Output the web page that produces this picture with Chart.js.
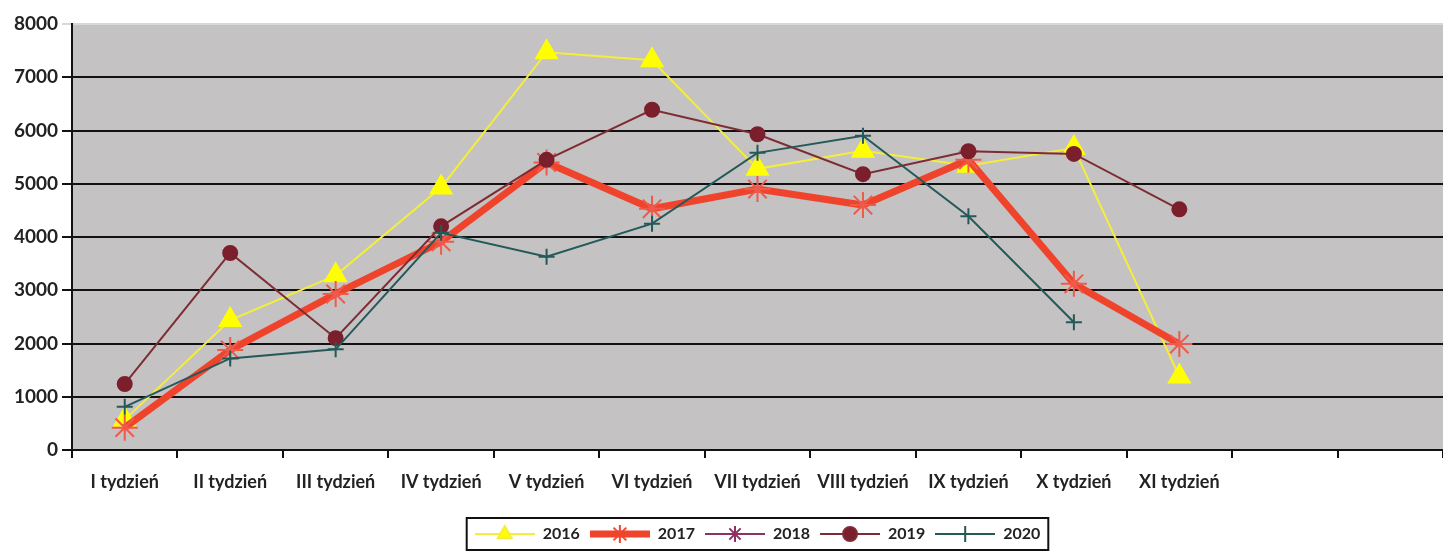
<!DOCTYPE html>
<html>
<head>
<meta charset="utf-8">
<script src="https://cdn.jsdelivr.net/npm/chart.js@4"></script>
<style>
  html, body { margin: 0; padding: 0; background: #fff; overflow: hidden; }
  #wrap { width: 1443px; height: 552px; }
  canvas { display: block; }
</style>
</head>
<body>
<div id="wrap"><canvas id="weeksChart"></canvas></div>
<script>
const weeks = ['I tydzień', 'II tydzień', 'III tydzień', 'IV tydzień', 'V tydzień', 'VI tydzień',
    'VII tydzień', 'VIII tydzień', 'IX tydzień', 'X tydzień', 'XI tydzień', '', ''];
const yTicks = [0, 1000, 2000, 3000, 4000, 5000, 6000, 7000, 8000];

const values2016 = [570, 2440, 3280, 4930, 7470, 7320, 5280, 5620, 5340, 5670, 1380];
const values2017 = [420, 1880, 2930, 3910, 5400, 4530, 4900, 4600, 5450, 3120, 1990];
const values2018 = [];
const values2019 = [1240, 3700, 2100, 4200, 5450, 6390, 5930, 5180, 5610, 5560, 4520];
const values2020 = [810, 1720, 1890, 4080, 3630, 4250, 5580, 5900, 4390, 2400];

const legendFont = { family: 'Lato', size: 16, weight: 'bold' };

// little canvas with line + marker, used as the legend symbol
function legendSymbol(color, lineWidth, style, radius, fill) {
    const c = document.createElement('canvas');
    c.width = 60;
    c.height = 22;
    const g = c.getContext('2d');
    g.strokeStyle = color;
    g.lineWidth = lineWidth;
    g.beginPath();
    g.moveTo(0, 11);
    g.lineTo(60, 11);
    g.stroke();
    g.fillStyle = fill;
    g.lineWidth = 2;
    Chart.helpers.drawPoint(g, { pointStyle: style, radius: radius, borderWidth: 2 }, 30, 11);
    return c;
}

const plotBackground = {
    id: 'plotBackground',
    beforeDraw(chart) {
        const { ctx, chartArea } = chart;
        ctx.save();
        ctx.fillStyle = '#c4c2c2';
        ctx.fillRect(chartArea.left, chartArea.top, chartArea.right - chartArea.left, chartArea.bottom - chartArea.top);
        ctx.restore();
    }
};

const legendBox = {
    id: 'legendBox',
    afterDraw(chart) {
        const boxes = chart.legend.legendHitBoxes;
        if (!boxes || !boxes.length) return;
        const left = Math.min(...boxes.map(b => b.left)) - 8;
        const right = Math.max(...boxes.map(b => b.left + b.width)) + 8;
        const top = Math.min(...boxes.map(b => b.top)) - 8;
        const bottom = Math.max(...boxes.map(b => b.top + b.height)) + 8;
        const ctx = chart.ctx;
        ctx.save();
        ctx.strokeStyle = '#111';
        ctx.lineWidth = 2;
        ctx.strokeRect(left, top, right - left, bottom - top);
        ctx.restore();
    }
};

const datasets = [
    { label: '2016', data: values2016, borderColor: '#f4ee3a', backgroundColor: '#ffff00', borderWidth: 2,
      pointStyle: 'triangle', pointRadius: 12, pointBorderColor: '#ffff00', order: 5 },
    { label: '2017', data: values2017, borderColor: '#f0432c', backgroundColor: '#f0432c', borderWidth: 7,
      pointStyle: 'star', pointRadius: 13, pointBorderWidth: 2, pointBorderColor: '#ef5a4a', order: 4 },
    { label: '2018', data: values2018, borderColor: '#8e3160', backgroundColor: '#8e3160', borderWidth: 2,
      pointStyle: 'star', pointRadius: 9, order: 3 },
    { label: '2019', data: values2019, borderColor: '#7e2c34', backgroundColor: '#7a1f2b', borderWidth: 2,
      pointStyle: 'circle', pointRadius: 7, pointBorderColor: '#7a1f2b', order: 2 },
    { label: '2020', data: values2020, borderColor: '#24595a', backgroundColor: '#24595a', borderWidth: 2,
      pointStyle: 'cross', pointRadius: 8, pointBorderWidth: 2, order: 1 }
];

const symbols = [
    legendSymbol('#f4ee3a', 2, 'triangle', 8, '#ffff00'),
    legendSymbol('#f0432c', 7, 'star', 9, '#f0432c'),
    legendSymbol('#8e3160', 2, 'star', 8, '#8e3160'),
    legendSymbol('#7e2c34', 2, 'circle', 7, '#7a1f2b'),
    legendSymbol('#24595a', 2, 'cross', 8, '#24595a')
];

const ctxWeeks = document.getElementById('weeksChart').getContext('2d');
const weeksChart = new Chart(ctxWeeks, {
    type: 'line',
    data: {
        labels: weeks,
        datasets: datasets
    },
    options: {
        responsive: true,
        maintainAspectRatio: false,
        animation: false,
        layout: { autoPadding: false, padding: { top: 24, right: 0, bottom: 0, left: 0 } },
        elements: {
            line: { tension: 0 },
            point: { hoverRadius: 8 }
        },
        plugins: {
            tooltip: { enabled: false },
            legend: {
                position: 'bottom',
                fullSize: false,
                labels: {
                    usePointStyle: true,
                    pointStyleWidth: 60,
                    padding: 10,
                    color: '#222',
                    font: legendFont,
                    sort: (a, b) => a.datasetIndex - b.datasetIndex,
                    generateLabels(chart) {
                        const items = Chart.defaults.plugins.legend.labels.generateLabels(chart);
                        items.forEach(item => { item.pointStyle = symbols[item.datasetIndex]; });
                        return items;
                    }
                }
            }
        },
        scales: {
            x: {
                offset: true,
                afterFit(scale) {
                    scale.height = 66;
                    scale.paddingLeft = 0;
                    scale.paddingRight = 0;
                },
                border: { color: '#111', width: 2 },
                grid: { offset: true, drawOnChartArea: false, drawTicks: true, tickLength: 8, color: '#111', lineWidth: 2 },
                ticks: { color: '#222', padding: 13, maxRotation: 0, autoSkip: false,
                         font: { family: 'Lato', size: 18, weight: 'bold' } }
            },
            y: {
                min: 0,
                max: 8000,
                afterFit(scale) { scale.width = 72; },
                afterBuildTicks(scale) { scale.ticks = yTicks.map(v => ({ value: v })); },
                border: { color: '#111', width: 2 },
                grid: {
                    color: ctx => ctx.tick.value === 8000 ? '#d8d8d8' : '#111',
                    lineWidth: 2,
                    tickLength: 10
                },
                ticks: { color: '#222', padding: 4, callback: v => String(v),
                         font: { family: 'Lato', size: 19, weight: 'bold' } }
            }
        }
    },
    plugins: [plotBackground, legendBox]
});
</script>
</body>
</html>
